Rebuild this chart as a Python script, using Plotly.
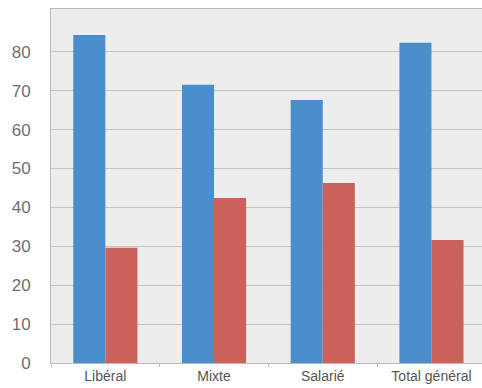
import plotly.graph_objects as go

categories = ["Libéral", "Mixte", "Salarié", "Total général"]
serie_bleue = [84.3, 71.5, 67.6, 82.3]
serie_rouge = [29.6, 42.4, 46.3, 31.6]
y_ticks = [0, 10, 20, 30, 40, 50, 60, 70, 80]

fig = go.Figure()
fig.add_trace(go.Bar(x=categories, y=serie_bleue, marker_color="#4A8FCB",
                     marker_line_width=0, name="Série 1"))
fig.add_trace(go.Bar(x=categories, y=serie_rouge, marker_color="#C8625B",
                     marker_line_width=0, name="Série 2"))

fig.update_layout(
    width=482, height=388,
    margin=dict(l=51, r=0, t=9, b=25),
    paper_bgcolor="white",
    plot_bgcolor="#EDEDED",
    barmode="group", bargap=0.41, bargroupgap=0,
    showlegend=False,
    font=dict(family="Liberation Sans Narrow, Liberation Sans, Arial", color="#555555"),
)
fig.update_xaxes(
    type="category", range=[-0.5, 3.465],
    showline=True, linecolor="#BBBBBB", linewidth=1, mirror=True,
    ticks="outside", tickson="boundaries", ticklen=3, tickcolor="#BBBBBB",
    tickfont=dict(size=14, color="#555555",
                  family="Liberation Sans Narrow, Liberation Sans, Arial"),
    showgrid=False,
)
fig.update_yaxes(
    range=[0, 91.0], tickvals=y_ticks,
    showline=True, linecolor="#BBBBBB", linewidth=1,
    gridcolor="#C4C4C4", gridwidth=1,
    ticks="", ticklabelstandoff=16,
    tickfont=dict(size=17, color="#707070", family="Liberation Sans, Arial"),
    zeroline=False,
)
fig.write_html("out.html")
